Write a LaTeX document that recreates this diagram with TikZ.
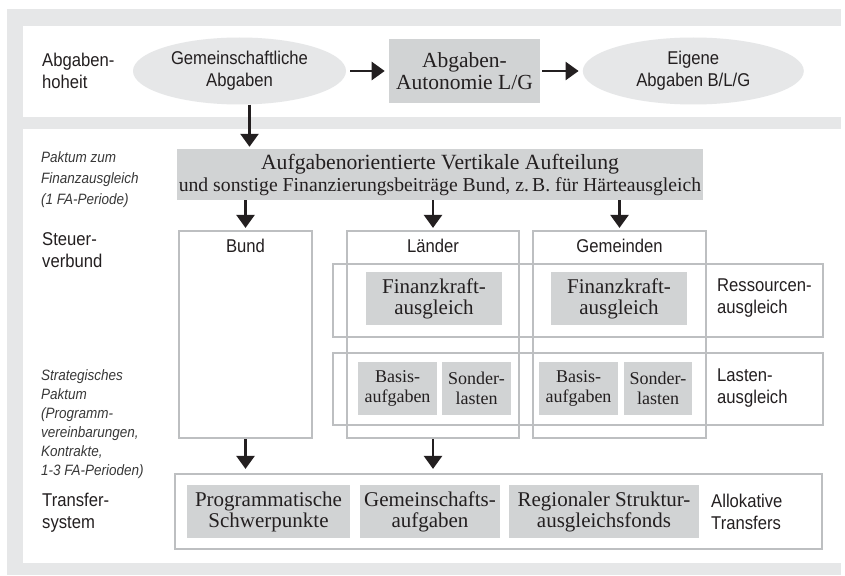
\documentclass[tikz,border=0pt]{standalone}
\usepackage{fontspec}
\newfontfamily\condsf[FakeStretch=0.9]{Liberation Sans}
\newfontfamily\boxserif{Liberation Serif}
\usetikzlibrary{arrows.meta,positioning,shapes.geometric}
\definecolor{bggray}{HTML}{E6E7E8}
\definecolor{framegray}{HTML}{BDBFC1}
\definecolor{boxgray}{HTML}{D1D3D4}
\definecolor{inkgray}{HTML}{231F20}
\tikzset{
  frame/.style={draw=framegray, line width=2.2pt, inner sep=0pt},
  shade/.style={fill=boxgray, align=center, inner sep=0pt, text=inkgray, font=\boxserif\fontsize{21}{21}\selectfont},
  oval/.style={ellipse, fill=bggray, align=center, inner sep=0pt, text=inkgray, font=\condsf\fontsize{18.5}{22}\selectfont},
  tag/.style={anchor=west, align=left, inner sep=0pt, text=inkgray, font=\condsf\fontsize{18.5}{22}\selectfont},
  head/.style={inner sep=0pt, text=inkgray, font=\condsf\fontsize{18.5}{22}\selectfont},
  note/.style={anchor=west, align=left, inner sep=0pt, text=black!78, font=\condsf\itshape\fontsize{15}{21}\selectfont},
  arrow/.style={-{Triangle[length=13pt,width=18pt]}, line width=2.5pt, draw=inkgray}
}

\begin{document}
\begin{tikzpicture}[x=1pt, y=-1pt, node distance=42.5pt]
  \useasboundingbox (0,0) rectangle (845,575);
  % background and the two panels
  \fill[bggray] (7,9) rectangle (841,575);
  \fill[white] (23,26) rectangle (841,117);
  \fill[white] (23,129) rectangle (841,563);

  % Abgabenhoheit
  \node[tag] (hoheit) at (42,71) {Abgaben-\\hoheit};
  \node[oval, minimum width=213pt, minimum height=67pt] (gem) at (239.5,71) {Gemeinschaftliche\\Abgaben};
  \node[shade, minimum width=151pt, minimum height=64pt, right=of gem, font=\boxserif\fontsize{21.5}{22}\selectfont] (auto) {Abgaben-\\Autonomie L/G};
  \node[oval, minimum width=221pt, minimum height=67pt, right=of auto] (eig) {Eigene\\Abgaben B/L/G};

  \draw[arrow, shorten <=4pt, shorten >=4pt] (gem) -- (auto);
  \draw[arrow, shorten <=2pt, shorten >=4pt] (auto) -- (eig);

  % vertical split
  \node[note] (pakt) at (41,180) {Paktum zum\\Finanzausgleich\\(1 FA-Periode)};
  \node[shade, minimum width=526pt, minimum height=51pt, font=\boxserif\fontsize{21.7}{23}\selectfont] (ver) at (440,174.5)
    {Aufgabenorientierte Vertikale Aufteilung\\[-1pt]{\fontsize{19.7}{23}\selectfont und sonstige Finanzierungsbeitr\"age Bund, z.\,B. f\"ur H\"arteausgleich}};
  \draw[arrow, shorten >=2pt] ([xshift=10pt]gem.south) -- ([xshift=10pt]gem.south |- ver.north);

  % Steuerverbund
  \node[tag] (steuer) at (42,250) {Steuer-\\verbund};
  \node[frame, minimum width=490pt, minimum height=73pt] (res) at (578,300.5) {};
  \node[frame, minimum width=490pt, minimum height=72pt] (last) at (578,389) {};
  \node[frame, minimum width=133pt, minimum height=207pt] (bund) at (245.5,334.5) {};
  \node[frame, minimum width=172pt, minimum height=207pt] (laender) at (433,334.5) {};
  \node[frame, minimum width=173pt, minimum height=207pt] (gemeinden) at (619.5,334.5) {};
  \node[head, below=9pt of bund.north] (bundtxt) {Bund};
  \node[head, below=9pt of laender.north] (laendertxt) {L\"ander};
  \node[head, below=9pt of gemeinden.north] (gemeindentxt) {Gemeinden};

  \draw[arrow, shorten >=2pt] (ver.south -| bund.north) -- (bund.north);
  \draw[arrow, shorten >=2pt] (ver.south -| laender.north) -- (laender.north);
  \draw[arrow, shorten >=2pt] (ver.south -| gemeinden.north) -- (gemeinden.north);

  % Ressourcen- und Lastenausgleich
  \node[shade, minimum width=136pt, minimum height=53pt] (fkl) at (434,298.5) {Finanzkraft-\\ausgleich};
  \node[shade, minimum width=136pt, minimum height=53pt] (fkg) at (619,298.5) {Finanzkraft-\\ausgleich};
  \node[shade, minimum width=79pt, minimum height=53pt, font=\boxserif\fontsize{18}{20}\selectfont] (basl) at (397.5,388.5) {Basis-\\aufgaben};
  \node[shade, minimum width=69pt, minimum height=53pt, font=\boxserif\fontsize{18}{20}\selectfont] (sonl) at (476.5,388.5) {Sonder-\\lasten};
  \node[shade, minimum width=79pt, minimum height=53pt, font=\boxserif\fontsize{18}{20}\selectfont] (basg) at (578.5,388.5) {Basis-\\aufgaben};
  \node[shade, minimum width=68pt, minimum height=53pt, font=\boxserif\fontsize{18}{20}\selectfont] (song) at (658,388.5) {Sonder-\\lasten};
  \node[tag] (restxt) at (717,298) {Ressourcen-\\ausgleich};
  \node[tag] (lasttxt) at (717,388) {Lasten-\\ausgleich};

  % Transfersystem
  \node[note, font=\condsf\itshape\fontsize{15}{19}\selectfont] (strat) at (41,424.5)
    {Strategisches\\Paktum\\(Programm-\\vereinbarungen,\\Kontrakte,\\1-3 FA-Perioden)};
  \node[tag] (transfer) at (42,513) {Transfer-\\system};
  \node[frame, minimum width=647pt, minimum height=75pt] (tra) at (498.5,511.5) {};
  \node[shade, minimum width=163pt, minimum height=53pt] (prog) at (268.5,511.5) {Programmatische\\Schwerpunkte};
  \node[shade, minimum width=140pt, minimum height=53pt] (gema) at (430,511.5) {Gemeinschafts-\\aufgaben};
  \node[shade, minimum width=190pt, minimum height=53pt] (reg) at (604,511.5) {Regionaler Struktur-\\ausgleichsfonds};
  \node[tag] (allo) at (711,512) {Allokative\\Transfers};

  \draw[arrow, shorten >=4pt] (bund.south) -- (bund.south |- tra.north);
  \draw[arrow, shorten >=4pt] (laender.south) -- (laender.south |- tra.north);
\end{tikzpicture}
\end{document}
